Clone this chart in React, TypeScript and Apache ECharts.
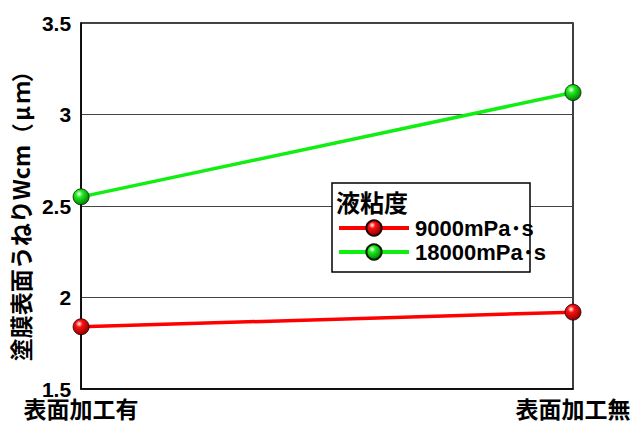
import React, { useEffect, useRef } from "react";
import * as echarts from "echarts";

const categories = ["表面加工有", "表面加工無"];
const seriesNames = ["9000mPa･s", "18000mPa･s"];
const values9000 = [1.84, 1.92];
const values18000 = [2.55, 3.12];
const yTicks = { min: 1.5, max: 3.5, interval: 0.5 };
const legendTitle = "液粘度";
const yAxisNameMain = "塗膜表面うねりWcm";
const yAxisNameUnit = ["（", "μ", "ｍ", "）"];

const FONT = "'Liberation Sans', 'Noto Sans CJK JP', sans-serif";
const CJK = "'Noto Sans CJK JP', sans-serif";

function sphere(base: string, dark: string) {
  return new echarts.graphic.RadialGradient(0.38, 0.32, 0.7, [
    { offset: 0, color: "#ffffff" },
    { offset: 0.3, color: base },
    { offset: 1, color: dark },
  ]);
}

export default function App() {
  const ref = useRef<HTMLDivElement>(null);
  useEffect(() => {
    if (!ref.current) return;
    const chart = echarts.init(ref.current, null, { renderer: "svg" });
    const nameText =
      `{a|${yAxisNameMain}}` + yAxisNameUnit.map((c) => `{p|${c}}`).join("");
    chart.setOption({
      animation: false,
      backgroundColor: "#ffffff",
      grid: {
        left: 77,
        right: 67,
        top: 23,
        bottom: 34,
        show: true,
        borderColor: "#000",
        borderWidth: 1.5,
        backgroundColor: "transparent",
      },
      xAxis: {
        type: "category",
        data: categories,
        boundaryGap: false,
        axisLine: { show: true, lineStyle: { color: "#000", width: 1.5 } },
        axisTick: { show: false },
        splitLine: { show: false },
        axisLabel: {
          color: "#000",
          fontFamily: CJK,
          fontWeight: "bold",
          fontSize: 23,
          lineHeight: 22,
          margin: 8,
        },
      },
      yAxis: {
        type: "value",
        min: yTicks.min,
        max: yTicks.max,
        interval: yTicks.interval,
        name: nameText,
        nameLocation: "middle",
        nameRotate: 90,
        nameGap: 44,
        nameTextStyle: {
          color: "#000",
          fontFamily: CJK,
          fontWeight: "bold",
          fontSize: 23,
          padding: [0, 10, 0, 0],
          rich: {
            a: {
              color: "#000",
              fontFamily: CJK,
              fontWeight: "bold",
              fontSize: 23,
            },
            p: {
              color: "#000",
              fontFamily: CJK,
              fontWeight: "bold",
              fontSize: 22,
              width: 21,
              align: "center",
            },
          },
        },
        axisLine: { show: true, lineStyle: { color: "#000", width: 1.5 } },
        axisTick: { show: false },
        splitLine: { show: true, lineStyle: { color: "#444", width: 1 } },
        axisLabel: {
          color: "#000",
          fontFamily: FONT,
          fontWeight: "bold",
          fontSize: 21,
          lineHeight: 15,
          margin: 10,
        },
      },
      legend: {
        orient: "vertical",
        left: 337,
        top: 217,
        padding: 0,
        itemGap: 2,
        itemWidth: 70,
        itemHeight: 19,
        z: 5,
        lineStyle: { width: 4 },
        textStyle: {
          color: "#000",
          fontFamily: FONT,
          fontWeight: "bold",
          fontSize: 22,
          padding: [0, 0, 0, 1],
        },
        data: seriesNames,
      },
      graphic: [
        {
          type: "rect",
          z: 3,
          shape: { x: 332, y: 183, width: 198, height: 89 },
          style: { fill: "#fff", stroke: "#000", lineWidth: 1.5 },
        },
        {
          type: "text",
          z: 4,
          x: 336,
          y: 189,
          style: {
            text: legendTitle,
            fill: "#000",
            font: `bold 24px ${CJK}`,
          },
        },
      ],
      series: [
        {
          name: seriesNames[0],
          type: "line",
          data: values9000,
          symbol: "circle",
          symbolSize: 16,
          lineStyle: { color: "#ff0000", width: 3.5 },
          itemStyle: {
            color: sphere("#ff1010", "#8a0000"),
            borderColor: "#200000",
            borderWidth: 0.8,
          },
          z: 3,
        },
        {
          name: seriesNames[1],
          type: "line",
          data: values18000,
          symbol: "circle",
          symbolSize: 16,
          lineStyle: { color: "#11ee11", width: 3.5 },
          itemStyle: {
            color: sphere("#22ee22", "#007a00"),
            borderColor: "#002000",
            borderWidth: 0.8,
          },
          z: 3,
        },
      ],
    });
    return () => chart.dispose();
  }, []);
  return (
    <div
      ref={ref}
      style={{ position: "fixed", left: 0, top: 0, width: 640, height: 423 }}
    />
  );
}
